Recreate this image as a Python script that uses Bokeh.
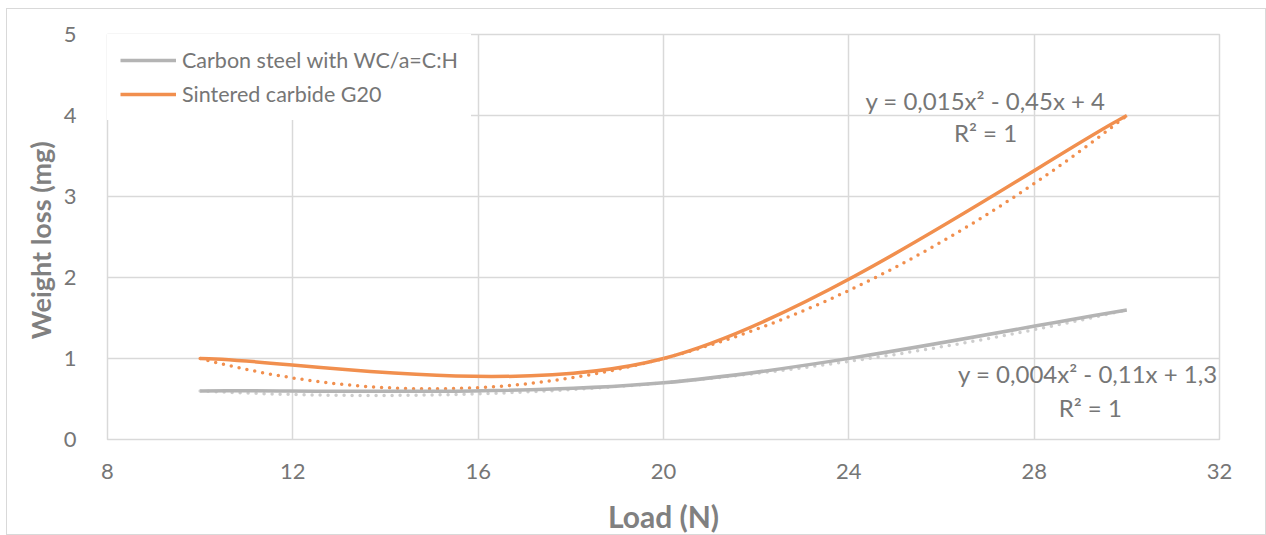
import numpy as np
from bokeh.plotting import figure
from bokeh.models import Legend, LegendItem, FixedTicker, ColumnDataSource
from bokeh.core.properties import value
from bokeh.embed import file_html
from bokeh.resources import INLINE

# ---- data ----
load = [10, 20, 30]
carbon_steel = [0.6, 0.7, 1.6]
sintered = [1.0, 1.0, 4.0]
series_names = ["Carbon steel with WC/a=C:H", "Sintered carbide G20"]
x_ticks = [8, 12, 16, 20, 24, 28, 32]
y_ticks = [0, 1, 2, 3, 4, 5]
eq_labels_sint = ["y = 0,015x\u00b2 - 0,45x + 4", "R\u00b2 = 1"]
eq_labels_cs = ["y = 0,004x\u00b2 - 0,11x + 1,3", "R\u00b2 = 1"]

ORANGE = "#F18F4E"
GRAY = "#B4B4B4"
TXT = "#767676"
FONT = "Lato"

p = figure(width=1260, height=527, x_range=(8, 32), y_range=(0, 5),
           output_backend="svg", toolbar_location=None,
           min_border_left=100, min_border_right=48, min_border_top=25, min_border_bottom=92)
p.styles = {"border": "1px solid #d9d9d9", "margin-left": "6px", "margin-top": "8px"}

p.outline_line_color = "#d9d9d9"
p.outline_line_width = 1.5
p.xgrid.grid_line_color = "#d9d9d9"
p.ygrid.grid_line_color = "#d9d9d9"
p.xgrid.grid_line_width = 1.5
p.ygrid.grid_line_width = 1.5
p.xaxis.ticker = FixedTicker(ticks=x_ticks)
p.yaxis.ticker = FixedTicker(ticks=y_ticks)
for ax in (p.xaxis[0], p.yaxis[0]):
    ax.axis_line_color = None
    ax.major_tick_line_color = None
    ax.minor_tick_line_color = None
    ax.major_label_text_font = FONT
    ax.major_label_text_font_size = "22px"
    ax.major_label_text_color = TXT
    ax.axis_label_text_font = FONT
    ax.axis_label_text_font_style = "bold"
    ax.axis_label_text_color = "#808080"
p.xaxis.axis_label_text_font_size = "30px"
p.yaxis.axis_label_text_font_size = "27px"
p.xaxis.axis_label = "Load (N)"
p.yaxis.axis_label = "Weight loss  (mg)"
p.xaxis.major_label_standoff = 18
p.yaxis.major_label_standoff = 25
p.xaxis.axis_label_standoff = 16
p.yaxis.axis_label_standoff = 4


def smooth(xs, ys):
    # Excel-style smoothed line: cubic Bezier with Catmull-Rom (1/6) control points
    n = len(xs)
    out = dict(x0=[], y0=[], x1=[], y1=[], cx0=[], cy0=[], cx1=[], cy1=[])
    for i in range(n - 1):
        pxv, pyv = (xs[i - 1], ys[i - 1]) if i > 0 else (xs[i], ys[i])
        nxv, nyv = (xs[i + 2], ys[i + 2]) if i + 2 < n else (xs[i + 1], ys[i + 1])
        out["x0"].append(xs[i]); out["y0"].append(ys[i])
        out["x1"].append(xs[i + 1]); out["y1"].append(ys[i + 1])
        out["cx0"].append(xs[i] + (xs[i + 1] - pxv) / 6)
        out["cy0"].append(ys[i] + (ys[i + 1] - pyv) / 6)
        out["cx1"].append(xs[i + 1] - (nxv - xs[i]) / 6)
        out["cy1"].append(ys[i + 1] - (nyv - ys[i]) / 6)
    return ColumnDataSource(out)


def trend(xs, ys):
    c = np.polyfit(xs, ys, 2)
    tx = np.linspace(min(xs), max(xs), 200)
    return tx, np.polyval(c, tx)


renderers = []
for ys, tcol in [(carbon_steel, "#CDCDCD"), (sintered, ORANGE)]:
    tx, ty = trend(load, ys)
    p.line(tx, ty, line_color=tcol, line_width=3.5, line_dash="0 8", line_cap="round")
for ys, col in [(carbon_steel, GRAY), (sintered, ORANGE)]:
    r = p.bezier(x0="x0", y0="y0", x1="x1", y1="y1", cx0="cx0", cy0="cy0", cx1="cx1", cy1="cy1",
                 source=smooth(load, ys), line_color=col, line_width=3.5)
    renderers.append(r)

legend = Legend(items=[LegendItem(label=series_names[i], renderers=[renderers[i]]) for i in range(2)],
                location="top_left", margin=0, padding=12, spacing=8,
                glyph_width=56, glyph_height=14, label_height=14, label_standoff=6,
                label_text_font=FONT, label_text_font_size="21.5px", label_text_color=TXT,
                background_fill_color="white", background_fill_alpha=1.0,
                border_line_color="white", border_line_width=1)
p.add_layout(legend)

EQ_SIZE = "24px"
p.text(x=[26.95], y=[4.18], text=[eq_labels_sint[0]], text_font=value(FONT), text_font_size=EQ_SIZE,
       text_color=TXT, text_align="center", text_baseline="middle")
p.text(x=[26.95], y=[3.79], text=[eq_labels_sint[1]], text_font=value(FONT), text_font_size=EQ_SIZE,
       text_color=TXT, text_align="center", text_baseline="middle")
p.text(x=[31.96], y=[0.81], text=[eq_labels_cs[0]], text_font=value(FONT), text_font_size=EQ_SIZE,
       text_color=TXT, text_align="right", text_baseline="middle")
p.text(x=[29.21], y=[0.39], text=[eq_labels_cs[1]], text_font=value(FONT), text_font_size=EQ_SIZE,
       text_color=TXT, text_align="center", text_baseline="middle")

open("out.html", "w").write(file_html(p, INLINE))
